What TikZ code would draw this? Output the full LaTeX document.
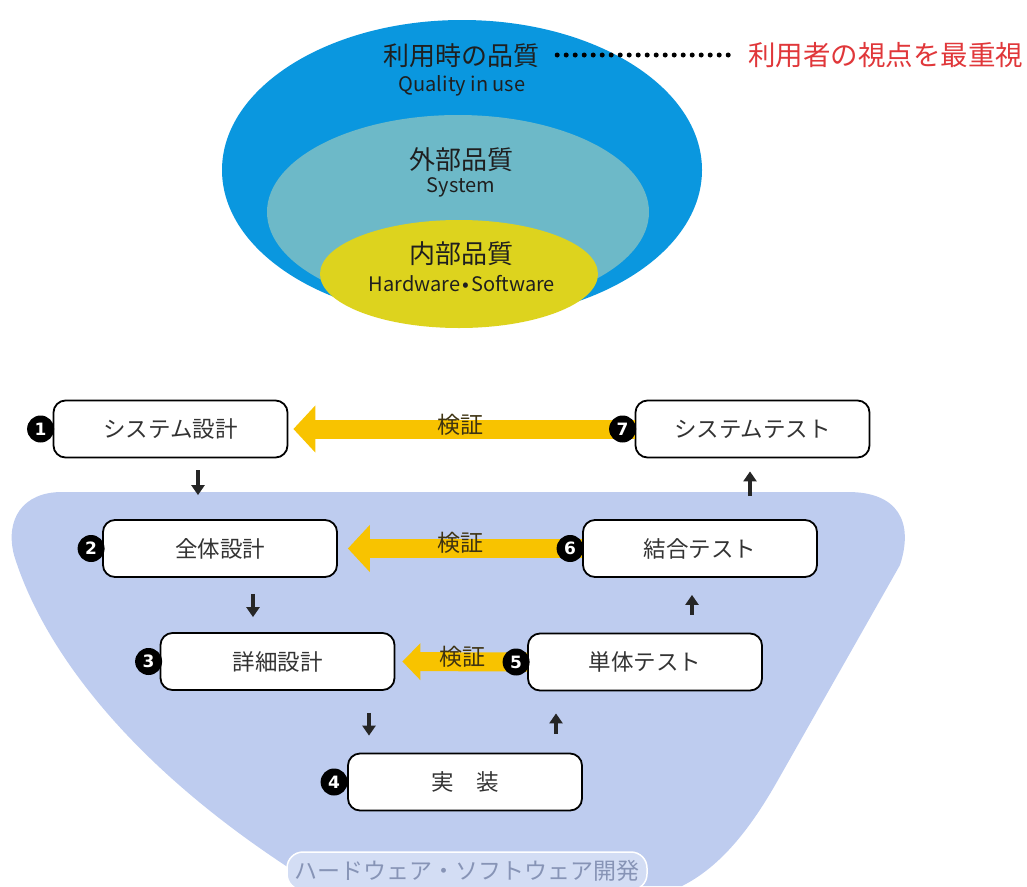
\documentclass[tikz,border=0pt]{standalone}
\usepackage{fontspec}
\setmainfont{Noto Sans CJK JP}
\newfontfamily\numfont{DejaVu Sans}
\usetikzlibrary{arrows.meta}
\definecolor{blueout}{HTML}{0A97DF}
\definecolor{tealmid}{HTML}{6DB9C8}
\definecolor{yellowin}{HTML}{DDD31E}
\definecolor{regionblue}{HTML}{BECCEF}
\definecolor{labelfill}{HTML}{D3DDF4}
\definecolor{labeltext}{HTML}{8794B6}
\definecolor{arrowyellow}{HTML}{F8C300}
\definecolor{redtext}{HTML}{E0373A}
\definecolor{boxtext}{HTML}{333333}
\definecolor{verifytext}{HTML}{3E3312}
\begin{document}
\begin{tikzpicture}[x=1pt,y=-1pt,
  stepbox/.style={draw=black, line width=1.8pt, fill=white, rounded corners=12pt,
    minimum width=234pt, minimum height=57pt, inner sep=0pt, text=boxtext,
    font=\fontsize{22.5}{22.5}\selectfont},
  badge/.style={circle, fill=black, minimum size=27pt, inner sep=0pt, text=white,
    font=\numfont\bfseries\fontsize{17}{17}\selectfont},
  jpbig/.style={font=\fontsize{26}{26}\selectfont, text=black!88, inner sep=0pt},
  ensmall/.style={font=\fontsize{20}{20}\selectfont, text=black!88, inner sep=0pt},
  vtext/.style={font=\fontsize{23}{23}\selectfont, text=verifytext, inner sep=0pt},
  yarrow/.style={draw=arrowyellow, line width=19pt, -{Triangle[width=46pt,length=22pt]}},
  yarrowsmall/.style={draw=arrowyellow, line width=19pt, -{Triangle[width=36pt,length=18pt]}},
  blkarrow/.style={draw=black!85, line width=4.5pt, -{Triangle[width=13pt,length=10pt]}},
  dotline/.style={draw=black, line width=5pt, line cap=round, dash pattern=on 0pt off 9pt}
]
\useasboundingbox (0,0) rectangle (1027,886);

% ---------- quality ellipses ----------
\fill[blueout] (462,170) ellipse [x radius=240pt, y radius=150pt];
\fill[tealmid] (458,212) ellipse [x radius=191pt, y radius=97pt];
\fill[yellowin] (459,274) ellipse [x radius=139pt, y radius=54pt];

\node[jpbig] (q1) at (461,56) {利用時の品質};
\node[ensmall] (q1e) at (462,86) {Quality in use};
\node[jpbig] (q2) at (461,160) {外部品質};
\node[ensmall] (q2e) at (461,187) {System};
\node[jpbig] (q3) at (461,254) {内部品質};
\node[ensmall] (q3e) at (462,284) {Hardware\kern2pt•\kern2pt Software};

\node[font=\fontsize{27.5}{27.5}\selectfont, text=redtext, inner sep=0pt, anchor=west] (red) at (748,55) {利用者の視点を最重視};
\draw[dotline, shorten <=18pt, shorten >=11pt] (q1.east |- red.west) -- (red.west);

% ---------- development region ----------
\fill[regionblue] (62,492) -- (848,492)
  .. controls (898,492) and (914,522) .. (900,565)
  -- (778,780)
  .. controls (752,826) and (722,866) .. (682,886)
  -- (310,886)
  .. controls (305,882) and (302,878) .. (300,875)
  .. controls (120,760) and (40,640) .. (14,555)
  .. controls (5,520) and (22,492) .. (62,492) -- cycle;

\node[draw=white, line width=1.5pt, fill=labelfill, rounded corners=16pt,
  minimum width=360pt, minimum height=38pt, inner sep=0pt, text=labeltext,
  font=\fontsize{23}{23}\selectfont] (lab) at (467,871) {ハードウェア・ソフトウェア開発};

% ---------- step boxes ----------
\node[stepbox] (b1) at (170.5,429) {システム設計};
\node[stepbox] (b7) at (752.5,429) {システムテスト};
\node[stepbox] (b2) at (220,548.5) {全体設計};
\node[stepbox] (b6) at (700,548.5) {結合テスト};
\node[stepbox] (b3) at (277.5,661.5) {詳細設計};
\node[stepbox] (b5) at (645,662) {単体テスト};
\node[stepbox] (b4) at (465,782) {実　装};

% ---------- verification arrows ----------
\draw[yarrow, shorten >=5pt] (b7.west) -- (b1.east);
\draw[yarrow, shorten >=10pt] (b6.west) -- (b2.east);
\draw[yarrowsmall, shorten >=7pt] (b5.west) -- (b3.east);
\node[vtext] (v1) at (460,425) {検証};
\node[vtext] (v2) at (460,543) {検証};
\node[vtext] (v3) at (462,657) {検証};

% ---------- badges ----------
\node[badge] (n1) at ([xshift=-12pt]b1.west) {1};
\node[badge] (n2) at ([xshift=-11pt]b2.west) {2};
\node[badge] (n3) at ([xshift=-11pt]b3.west) {3};
\node[badge] (n4) at ([xshift=-13pt]b4.west) {4};
\node[badge] (n5) at ([xshift=-11pt]b5.west) {5};
\node[badge] (n6) at ([xshift=-12pt]b6.west) {6};
\node[badge] (n7) at ([xshift=-12pt]b7.west) {7};

% ---------- flow arrows ----------
\draw[blkarrow, shorten <=12pt, shorten >=24pt] (b1.south -| 198,0) -- (b2.north -| 198,0);
\draw[blkarrow, shorten <=16pt, shorten >=15pt] (b2.south -| 253,0) -- (b3.north -| 253,0);
\draw[blkarrow, shorten <=22pt, shorten >=17pt] (b3.south -| 369,0) -- (b4.north -| 369,0);
\draw[blkarrow, shorten <=19pt, shorten >=22pt] (b4.north -| 556,0) -- (b5.south -| 556,0);
\draw[blkarrow, shorten <=18pt, shorten >=17pt] (b5.north -| 692,0) -- (b6.south -| 692,0);
\draw[blkarrow, shorten <=23pt, shorten >=13pt] (b6.north -| 750,0) -- (b7.south -| 750,0);
\end{tikzpicture}
\end{document}
